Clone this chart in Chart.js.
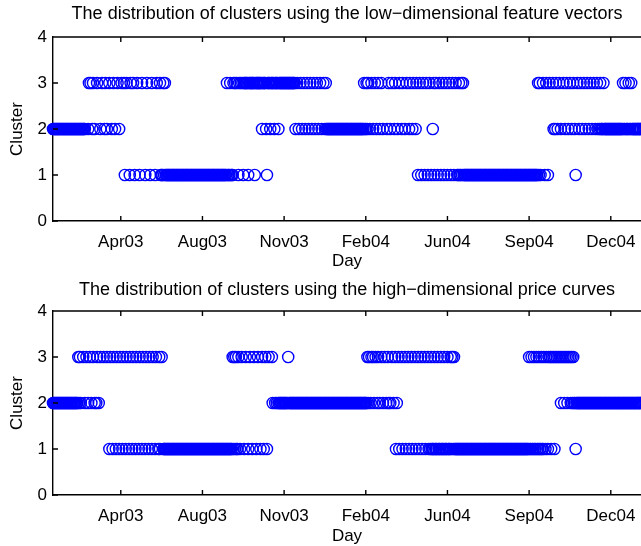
<!DOCTYPE html>
<html>
<head>
<meta charset="utf-8">
<script src="https://cdn.jsdelivr.net/npm/chart.js@4.4.1/dist/chart.umd.min.js"></script>
<style>
  html, body { margin: 0; padding: 0; background: #fff; overflow: hidden; }
  #wrap { position: relative; width: 641px; height: 546px; overflow: hidden; }
  .panel { position: absolute; left: 0; width: 641px; height: 273px; }
</style>
</head>
<body>
<div id="wrap">
  <div class="panel" style="top:0px"><canvas id="lowDim" width="641" height="273"></canvas></div>
  <div class="panel" style="top:274px"><canvas id="highDim" width="641" height="273"></canvas></div>
</div>
<script>
// Day numbers count from 1 Jan 2003 (day 0).
const firstDay = 35;                 // first labelled day
const dayRange = [35, 755];
const tickDays = [118, 218, 318, 418, 518, 618, 718];
const tickLabels = ['Apr03', 'Aug03', 'Nov03', 'Feb04', 'Jun04', 'Sep04', 'Dec04'];
const clusterTicks = [0, 1, 2, 3, 4];

const lowDimTitle = 'The distribution of clusters using the low\u2212dimensional feature vectors';
const highDimTitle = 'The distribution of clusters using the high\u2212dimensional price curves';

// Cluster label of each day, one character per day starting at firstDay
// ('.' = no observation). Groups of ten days are separated by spaces.
const lowDimClusters = [
  '2222222222 2222222222 2222222222 2222222222 ...23.3.23 .2..3...2. 3..23.2..3 ..2.3.2..3 .2..3..31. 3...13..3.',
  '1..3..1..3 ...1.3...1 .3...1.3.. .311131311 1111111111 1111111111 1111111111 1111111111 1111111111 1111111111',
  '1111111111 1113111311 13.3.3.13. 3.31333331 3333333133 3333332333 3213332333 3233332333 3333333333 33333332.3',
  '.2.3.2.3.2 .3.2.3.2.3 .2.3.2.3.2 .3.2322222 2222222222 2222222222 2222222222 2222222222 2322323.2. 3.2.3.2.3.',
  '2.3.2....2 .3.2.3..23 ..2.3..23. .2.3..23.. 23..23.1.3 .1.3.1.3.1 .3.1.231.3 .1.3.1.3.1 .3.1.3.1.3 .1.3.11311',
  '3131111111 1111111111 1111111111 1111111111 1111111111 1111111111 1111111111 1111111111 1111111111 11113131..',
  '3.1.3.1.3. ..32.23.2. 3.2..3.2.3 .2.3.2.3.2 1.3.2.3.2. 3.2.3.2.3. 2.3.2.32.2 3222322222 2222222222 2222222232',
  '2322232232 2222222222 2222222222'
];

const highDimClusters = [
  '2222222222 2222222222 2222222222 23232..3.2 .3.2.3.2.3 .2.23.2.3. ..3...3..1 3..13..13. .13..13..1 3..13..13.',
  '.13..13..1 3..13..13. .13..13..1 31.3.11111 1111111111 1111111111 1111111111 1111111111 1111111111 1111111111',
  '1111111111 1111111111 31313113.1 .3..1.3..1 .3..1.3..1 .3..1.3.1. 3.1.3...32 ..2.2.2222 2222222232 2222222222',
  '2222222222 2222222222 2222222222 2222222222 2222222222 2222222222 2222222222 2222222222 22222323.2 3.32.3.23.',
  '2.3.2.3.2. 32.2.3.2.3 12.31..31. .31..31..3 1..31..31. .31..31..3 1.13111311 1311131113 1113111313 1311111111',
  '1111111111 1111111111 1111111111 1111111111 1111111111 1111111111 1111111111 1111111111 1113113113 1131131131',
  '13.13.13.3 13.313.3.3 .323.323.3 23.3232322 1222222222 2222222222 2222222222 2222222222 2222222222 2222222222',
  '2222222222 2222222222 2222232222'
];

function dayPoints(rows) {
  const seq = rows.join('').replace(/\s+/g, '');
  const pts = [];
  for (let i = 0; i < seq.length; i++) {
    if (seq[i] !== '.') pts.push({ x: firstDay + i, y: Number(seq[i]) });
  }
  return pts;
}

const FONT = '"Liberation Sans", Arial, Helvetica, sans-serif';
Chart.defaults.font.family = FONT;
Chart.defaults.font.size = 17;
Chart.defaults.color = '#000';

// MATLAB-style box: top edge plus inward tick marks
const boxTicks = {
  id: 'boxTicks',
  afterDraw(chart) {
    const { ctx, chartArea: a, scales: { x, y } } = chart;
    ctx.save();
    ctx.strokeStyle = '#000';
    ctx.lineWidth = 1.4;
    ctx.beginPath();
    ctx.moveTo(a.left, a.top); ctx.lineTo(a.right + 2, a.top);
    x.ticks.forEach(t => {
      const px = x.getPixelForValue(t.value);
      ctx.moveTo(px, a.bottom); ctx.lineTo(px, a.bottom - 5);
      ctx.moveTo(px, a.top); ctx.lineTo(px, a.top + 5);
    });
    y.ticks.forEach(t => {
      const py = y.getPixelForValue(t.value);
      ctx.moveTo(a.left, py); ctx.lineTo(a.left + 5, py);
    });
    ctx.stroke();
    ctx.restore();
  }
};

function makeChart(id, title, rows, titlePad, dayPad) {
  return new Chart(document.getElementById(id), {
    type: 'scatter',
    data: {
      datasets: [{
        data: dayPoints(rows),
        pointStyle: 'circle',
        pointRadius: 5.6,
        pointHoverRadius: 5.6,
        borderWidth: 1.4,
        borderColor: '#0000ff',
        backgroundColor: 'rgba(0,0,0,0)',
        clip: false
      }]
    },
    options: {
      responsive: false,
      animation: false,
      devicePixelRatio: 1,
      layout: { padding: 0, autoPadding: false },
      plugins: {
        legend: { display: false },
        tooltip: { enabled: false },
        title: {
          display: true,
          text: title,
          fullSize: false,
          font: { size: 18, weight: 'normal', family: FONT },
          color: '#000',
          padding: titlePad
        }
      },
      scales: {
        x: {
          type: 'linear',
          min: dayRange[0],
          max: dayRange[1],
          afterBuildTicks: s => { s.ticks = tickDays.map(v => ({ value: v })); },
          afterFit: s => { s.height = 52; s.paddingLeft = 0; s.paddingRight = 0; },
          ticks: {
            padding: 11,
            autoSkip: false,
            maxRotation: 0,
            callback: v => tickLabels[tickDays.indexOf(v)]
          },
          grid: { display: false, drawTicks: false },
          border: { display: true, color: '#000', width: 1.4 },
          title: { display: true, text: 'Day', padding: { top: 0, bottom: dayPad } }
        },
        y: {
          min: 0,
          max: 4,
          afterBuildTicks: s => { s.ticks = clusterTicks.map(v => ({ value: v })); },
          afterFit: s => { s.width = 53; },
          ticks: { padding: 6 },
          grid: { display: false, drawTicks: false },
          border: { display: true, color: '#000', width: 1.4 },
          title: { display: true, text: 'Cluster', padding: { top: 7, bottom: 0 } }
        }
      }
    },
    plugins: [boxTicks]
  });
}

makeChart('lowDim', lowDimTitle, lowDimClusters, { top: 3, bottom: 12.4 }, 1);
makeChart('highDim', highDimTitle, highDimClusters, { top: 5, bottom: 10.4 }, 0);
</script>
</body>
</html>
